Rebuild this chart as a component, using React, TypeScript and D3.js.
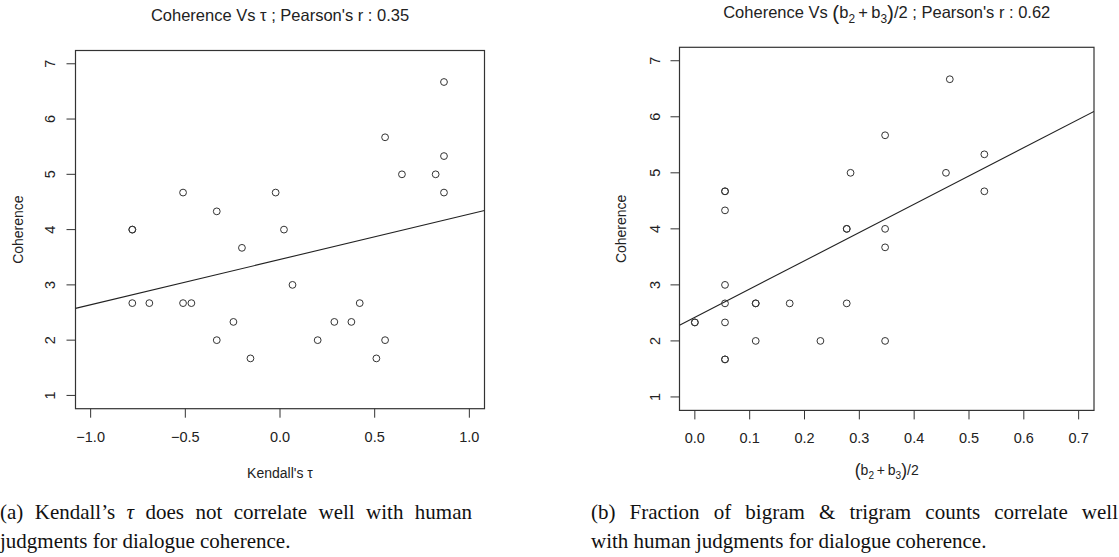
import React, { useLayoutEffect, useRef, useState } from "react";
import * as d3 from "d3";

// ---- Data: left panel (Kendall's tau vs coherence)
const tauValues = [0.866, 0.555, 0.866, 0.644, 0.822, 0.866, -0.512, -0.023, -0.334, -0.78, -0.78, 0.021, -0.201, 0.066, -0.78, -0.69, -0.512, -0.468, 0.421, -0.246, 0.287, 0.377, -0.334, 0.199, 0.555, -0.156, 0.509];
const tauCoherence = [6.67, 5.67, 5.33, 5.0, 5.0, 4.67, 4.67, 4.67, 4.33, 4.0, 4.0, 4.0, 3.67, 3.0, 2.67, 2.67, 2.67, 2.67, 2.67, 2.33, 2.33, 2.33, 2.0, 2.0, 2.0, 1.67, 1.67];
const tauFit = { intercept: 3.46, slope: 0.82 };
const tauTicks = [-1.0, -0.5, 0.0, 0.5, 1.0];

// ---- Data: right panel ((b2+b3)/2 vs coherence)
const bleuValues = [0.465, 0.347, 0.284, 0.458, 0.528, 0.528, 0.055, 0.055, 0.055, 0.277, 0.277, 0.347, 0.347, 0.055, 0.055, 0.111, 0.111, 0.173, 0.277, 0.0, 0.0, 0.055, 0.111, 0.229, 0.347, 0.055, 0.055];
const bleuCoherence = [6.67, 5.67, 5.0, 5.0, 5.33, 4.67, 4.67, 4.67, 4.33, 4.0, 4.0, 4.0, 3.67, 3.0, 2.67, 2.67, 2.67, 2.67, 2.67, 2.33, 2.33, 2.33, 2.0, 2.0, 2.0, 1.67, 1.67];
const bleuFit = { intercept: 2.42, slope: 5.05 };
const bleuTicks = [0.0, 0.1, 0.2, 0.3, 0.4, 0.5, 0.6, 0.7];

const coherenceTicks = [1, 2, 3, 4, 5, 6, 7];

const SANS = "'Liberation Sans', Arial, Helvetica, sans-serif";
const SERIF = "'Liberation Serif', 'Times New Roman', serif";
const INK = "#333";

type PanelProps = {
  xs: number[];
  ys: number[];
  fit: { intercept: number; slope: number };
  xDomain: [number, number];
  xRange: [number, number];
  yRange: [number, number];
  xTicks: number[];
  xFmt: (v: number) => string;
  title: React.ReactNode;
  titleY: number;
  xLabel: React.ReactNode;
  xLabelY: number;
  yLabelX: number;
  yTickLabelX: number;
};

function Panel(p: PanelProps) {
  const x = d3.scaleLinear().domain(p.xDomain).range(p.xRange);
  const y = d3.scaleLinear().domain([0.76, 7.24]).range(p.yRange);
  const [x0, x1] = p.xRange;
  const [yb, yt] = p.yRange;
  const cx = (x0 + x1) / 2;
  const cy = (yb + yt) / 2;
  const line = d3
    .line<number>()
    .x((d) => x(d))
    .y((d) => y(p.fit.intercept + p.fit.slope * d));
  return (
    <g>
      <defs>
        <clipPath id={`clip-${Math.round(x0)}`}>
          <rect x={x0} y={yt} width={x1 - x0} height={yb - yt} />
        </clipPath>
      </defs>
      <text x={cx} y={p.titleY} textAnchor="middle" fontFamily={SANS} fontSize={16.5} fill="#222">
        {p.title}
      </text>
      <rect x={x0} y={yt} width={x1 - x0} height={yb - yt} fill="none" stroke={INK} strokeWidth={1.2} />
      {p.xTicks.map((t) => (
        <g key={t}>
          <line x1={x(t)} x2={x(t)} y1={yb} y2={yb + 9} stroke={INK} strokeWidth={1} />
          <text x={x(t)} y={yb + 33} textAnchor="middle" fontFamily={SANS} fontSize={14.5} fill="#222">
            {p.xFmt(t)}
          </text>
        </g>
      ))}
      {coherenceTicks.map((t) => (
        <g key={t}>
          <line x1={x0} x2={x0 - 9} y1={y(t)} y2={y(t)} stroke={INK} strokeWidth={1} />
          <text
            transform={`translate(${p.yTickLabelX},${y(t)}) rotate(-90)`}
            textAnchor="middle"
            dy="0.35em"
            fontFamily={SANS}
            fontSize={14.5}
            fill="#222"
          >
            {t}
          </text>
        </g>
      ))}
      <text
        transform={`translate(${p.yLabelX},${cy}) rotate(-90)`}
        textAnchor="middle"
        dy="0.35em"
        fontFamily={SANS}
        fontSize={14}
        fill="#222"
      >
        Coherence
      </text>
      <text x={cx} y={p.xLabelY} textAnchor="middle" fontFamily={SANS} fontSize={14} fill="#222">
        {p.xLabel}
      </text>
      <path
        d={line(p.xDomain) || ""}
        fill="none"
        stroke="#222"
        strokeWidth={1.1}
        clipPath={`url(#clip-${Math.round(x0)})`}
      />
      {p.xs.map((v, i) => (
        <circle key={i} cx={x(v)} cy={y(p.ys[i])} r={3.4} fill="none" stroke={INK} strokeWidth={1} />
      ))}
    </g>
  );
}

function BFrac({ size }: { size: number }) {
  const sub = size * 0.72;
  return (
    <>
      <tspan fontSize={size * 1.25} dy={size * 0.1}>(</tspan>
      <tspan dy={-size * 0.1}>b</tspan>
      <tspan fontSize={sub} dy={size * 0.3}>2</tspan>
      <tspan dy={-size * 0.3}>{"\u2009+\u2009"}b</tspan>
      <tspan fontSize={sub} dy={size * 0.3}>3</tspan>
      <tspan fontSize={size * 1.25} dy={-size * 0.2}>)</tspan>
      <tspan dy={-size * 0.1}>/2</tspan>
    </>
  );
}

// A caption line justified to a target width by widening the word gaps.
function JustifiedLine({
  x,
  y,
  width,
  size,
  children,
}: {
  x: number;
  y: number;
  width: number;
  size: number;
  children: React.ReactNode;
}) {
  const ref = useRef<SVGTextElement>(null);
  const [ws, setWs] = useState(0);
  useLayoutEffect(() => {
    const el = ref.current;
    if (!el) return;
    const natural = el.getComputedTextLength();
    const gaps = (el.textContent || "").trim().split(/\s+/).length - 1;
    if (gaps > 0) setWs(Math.max(0, (width - natural) / gaps));
  }, [width]);
  return (
    <text ref={ref} x={x} y={y} fontFamily={SERIF} fontSize={size} fill="#111" wordSpacing={ws}>
      {children}
    </text>
  );
}

export default function App() {
  const fmt1 = d3.format(".1f");
  const fmtTau = (v: number) => fmt1(v).replace("-", "\u2212");
  const capSize = 21;
  return (
    <svg
      width={1119}
      height={557}
      style={{ position: "absolute", left: 0, top: 0, background: "#fff" }}
    >
      <rect width={1119} height={557} fill="#fff" />
      <Panel
        xs={tauValues}
        ys={tauCoherence}
        fit={tauFit}
        xDomain={[-1.08, 1.08]}
        xRange={[75.5, 484.5]}
        yRange={[408.7, 50.5]}
        xTicks={tauTicks}
        xFmt={fmtTau}
        title={<>Coherence Vs {"\u03C4"} ; Pearson's r : 0.35</>}
        titleY={21}
        xLabel={<>Kendall's {"\u03C4"}</>}
        xLabelY={478}
        yLabelX={18}
        yTickLabelX={50}
      />
      <Panel
        xs={bleuValues}
        ys={bleuCoherence}
        fit={bleuFit}
        xDomain={[-0.028, 0.728]}
        xRange={[679.5, 1094]}
        yRange={[410.4, 47.3]}
        xTicks={bleuTicks}
        xFmt={fmt1}
        title={
          <>
            Coherence Vs <BFrac size={16.5} /> ; Pearson's r : 0.62
          </>
        }
        titleY={18}
        xLabel={<BFrac size={14} />}
        xLabelY={475}
        yLabelX={621}
        yTickLabelX={655}
      />
      <JustifiedLine x={0} y={519} width={472} size={capSize}>
        (a) Kendall’s <tspan fontStyle="italic">τ</tspan> does not correlate well with human
      </JustifiedLine>
      <text x={0} y={548} fontFamily={SERIF} fontSize={capSize} fill="#111">
        judgments for dialogue coherence.
      </text>
      <JustifiedLine x={591} y={519} width={527} size={capSize}>
        (b) Fraction of bigram &amp; trigram counts correlate well
      </JustifiedLine>
      <text x={591} y={548} fontFamily={SERIF} fontSize={capSize} fill="#111">
        with human judgments for dialogue coherence.
      </text>
    </svg>
  );
}
